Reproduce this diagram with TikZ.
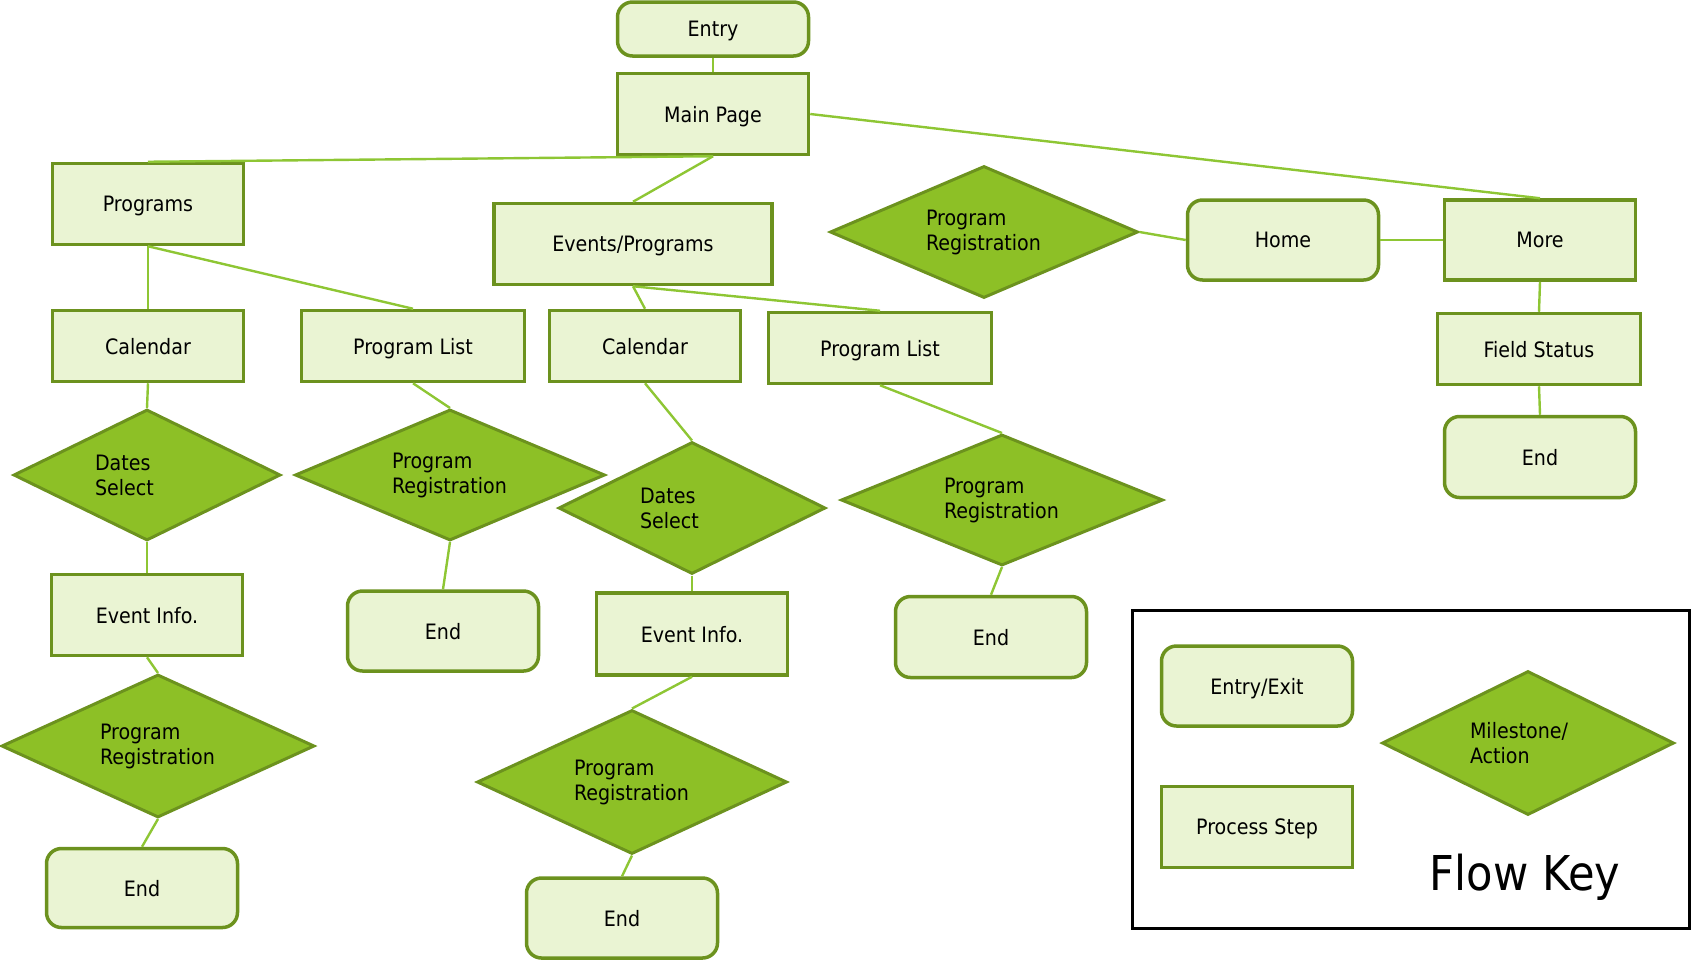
\documentclass[tikz,border=0pt]{standalone}
\usepackage{fontspec}
\setmainfont{DejaVu Sans Condensed}
\usetikzlibrary{shapes.geometric,positioning}
\definecolor{boxFill}{RGB}{234,244,211}
\definecolor{boxLine}{RGB}{108,146,30}
\definecolor{diaFill}{RGB}{141,192,38}
\definecolor{linkGreen}{RGB}{142,198,52}

\begin{document}
\begin{tikzpicture}[x=0.5pt, y=-0.5pt, every node/.style={font=\fontsize{10.6}{12.5}\selectfont, text=black},
    procbox/.style={draw=boxLine, fill=boxFill, line width=1.75pt, minimum width=95.5pt, minimum height=40.5pt, inner sep=0pt, text depth=0pt},
    termbox/.style={procbox, rounded corners=7.5pt},
    decision/.style={diamond, aspect=2, draw=boxLine, fill=diaFill, line width=1.5pt, inner sep=0pt,
      text width=58pt, align=left, minimum width=155pt, minimum height=66pt},
    link/.style={draw=linkGreen, line width=1.2pt}]
  \useasboundingbox (0,0) rectangle (1691,960);
  % top of the site
  \node[termbox, minimum height=27pt] (entry) at (713,29) {Entry};
  \node[procbox] (main) at (713,114) {Main Page};
  \node[procbox] (programs) at (148,204) {Programs};
  \node[procbox, minimum width=139pt] (events) at (633,244) {Events/Programs};
  \node[decision, minimum width=154pt] (regTop) at (984,232) {Program\\Registration};
  \node[termbox, minimum height=40pt] (home) at (1283,240) {Home};
  \node[procbox, minimum height=40pt] (more) at (1540,240) {More};
  % second row
  \node[procbox, minimum height=35.5pt] (calL) at (148,346) {Calendar};
  \node[procbox, minimum width=111.5pt, minimum height=35.5pt] (listL) at (413,346) {Program List};
  \node[procbox, minimum height=35.5pt] (calM) at (645,346) {Calendar};
  \node[procbox, minimum width=111.5pt, minimum height=35.5pt] (listM) at (880,348) {Program List};
  \node[procbox, minimum width=101.5pt, minimum height=35.5pt] (field) at (1539,349) {Field Status};
  \node[termbox] (endMore) at (1540,457) {End};
  % actions
  \node[decision, minimum width=133.5pt, minimum height=65.5pt, text width=52pt] (datesL) at (147,475) {Dates\\Select};
  \node[decision, minimum height=65.5pt] (regL) at (450,475) {Program\\Registration};
  \node[decision, minimum width=133.5pt, text width=52pt] (datesM) at (692,508) {Dates\\Select};
  \node[decision, minimum width=161pt, minimum height=65.5pt] (regM) at (1002,500) {Program\\Registration};
  \node[procbox] (infoL) at (147,615) {Event Info.};
  \node[termbox, minimum height=40pt] (endRegL) at (443,631) {End};
  \node[procbox, minimum height=41pt] (infoM) at (692,634) {Event Info.};
  \node[termbox] (endRegM) at (991,637) {End};
  \node[decision, minimum width=156.5pt, minimum height=71.5pt] (regInfoL) at (158,746) {Program\\Registration};
  \node[decision, minimum height=72pt] (regInfoM) at (632,782) {Program\\Registration};
  \node[termbox, minimum height=39.5pt] (endL) at (142,888) {End};
  \node[termbox, minimum height=40pt] (endM) at (622,918) {End};
  % connectors
  \foreach \a/\b in {entry/main, main/programs, main/events, programs/calL, programs/listL,
      events/calM, events/listM, more/field, field/endMore, calL/datesL, listL/regL,
      calM/datesM, listM/regM, datesL/infoL, regL/endRegL, datesM/infoM, regM/endRegM,
      infoL/regInfoL, regInfoL/endL, infoM/regInfoM, regInfoM/endM}
    \draw[link] (\a.south) -- (\b.north);
  \draw[link] (main.east) -- (more.north);
  \draw[link] (regTop.east) -- (home.west);
  \draw[link] (home.east) -- (more.west);
  % flow key
  \node[draw=black, line width=1.5pt, minimum width=278.5pt, minimum height=159pt, inner sep=0pt] (keyBox) at (1410.5,769) {};
  \node[termbox, minimum height=40pt] (keyEntry) at (1257,686) {Entry/Exit};
  \node[procbox] (keyStep) at (1257,827) {Process Step};
  \node[decision, minimum width=146pt, minimum height=72pt] (keyMile) at (1528,743) {Milestone/\\Action};
  \node[font=\fontsize{24}{28}\selectfont] (keyTitle) at (1525,877) {Flow Key};
\end{tikzpicture}
\end{document}
